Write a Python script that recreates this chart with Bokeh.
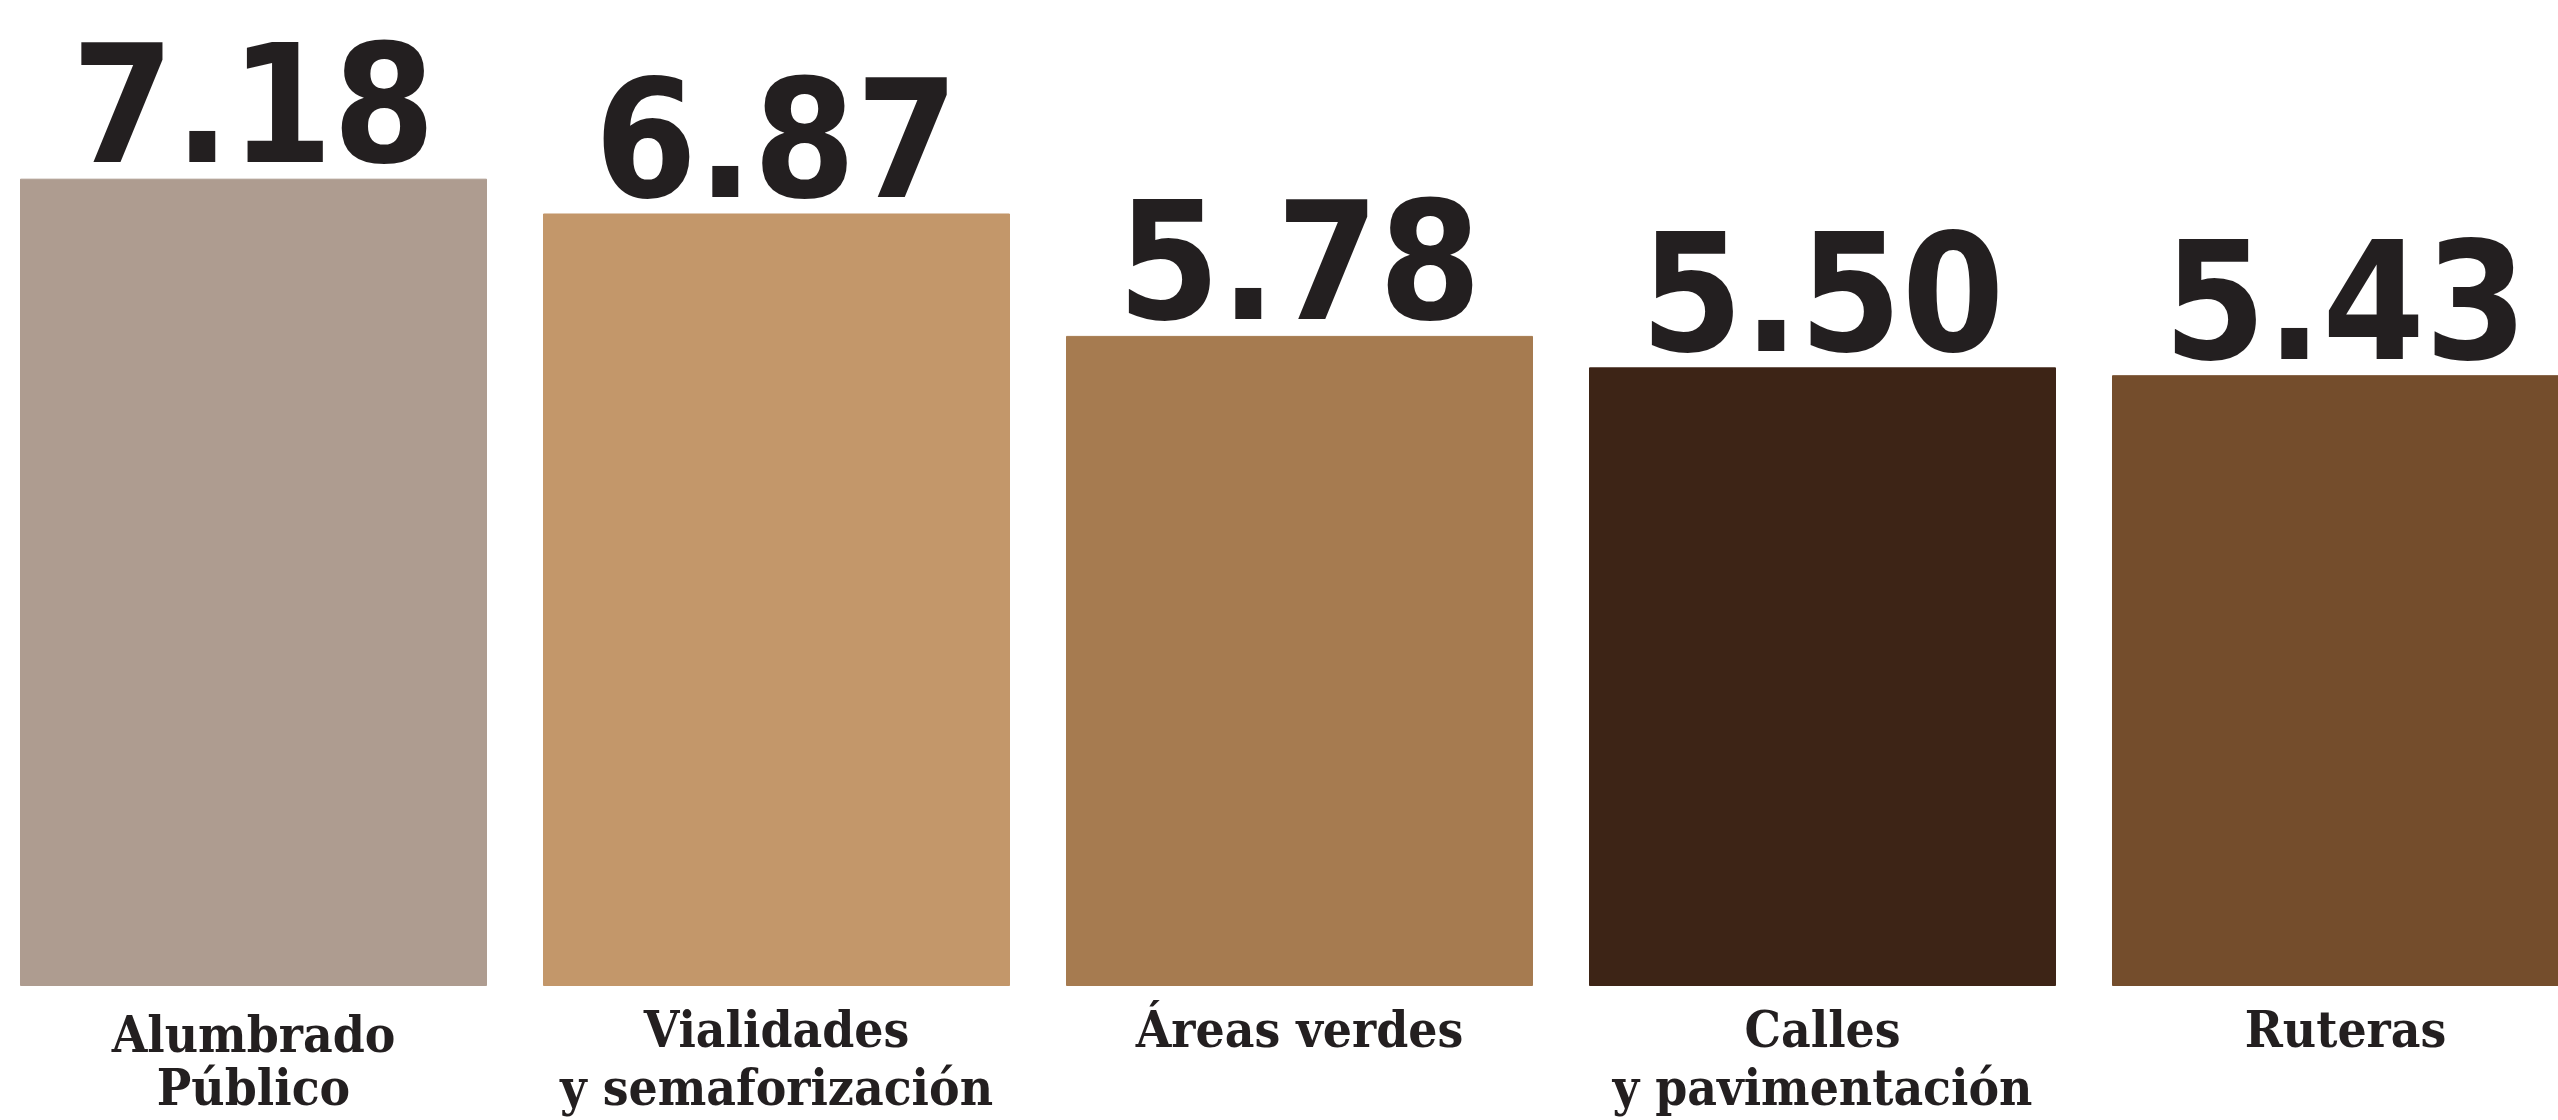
from bokeh.plotting import figure
from bokeh.models import ColumnDataSource, Range1d
from bokeh.core.properties import value
from bokeh.embed import file_html
from bokeh.resources import INLINE

categories = ["Alumbrado\nPúblico", "Vialidades\ny semaforización", "Áreas verdes",
              "Calles\ny pavimentación", "Ruteras"]
scores = [7.18, 6.87, 5.78, 5.50, 5.43]
score_labels = ["7.18", "6.87", "5.78", "5.50", "5.43"]
colors = ["#AE9C90", "#C3976A", "#A67B50", "#3D2416", "#744D2C"]

W, H = 2558, 1120
PITCH = 523.0          # px per category
YSCALE = 112.3         # px per unit
BASE = 985.0           # baseline px from top
LEFT_CENTER = 253.0

x_start = 0.0 - LEFT_CENTER / PITCH
x_end = x_start + W / PITCH
y_end = BASE / YSCALE
y_start = -(H - BASE) / YSCALE

xs = list(range(len(categories)))
line1 = [c.split("\n")[0] for c in categories]
line2 = [c.split("\n")[1] if "\n" in c else "" for c in categories]
off1 = [48 if i == 0 else 43 for i in xs]
off2 = [101 for i in xs]

src = ColumnDataSource(dict(x=xs, top=scores, color=colors, lab=score_labels,
                            l1=line1, l2=line2, o1=off1, o2=off2))

p = figure(width=W, height=H, output_backend="svg", toolbar_location=None,
           x_range=Range1d(x_start, x_end), y_range=Range1d(y_start, y_end),
           min_border=0, outline_line_color=None, background_fill_color="white",
           border_fill_color="white")
p.xaxis.visible = False
p.yaxis.visible = False
p.grid.visible = False

p.vbar(x="x", top="top", bottom=0, width=466.0 / PITCH, color="color", source=src)

p.text(x="x", y="top", text="lab", source=src, text_align="center",
       text_baseline="alphabetic", y_offset=-77,
       text_font=value("DejaVu Sans Condensed"), text_font_style="bold",
       text_font_size="164px", text_color="#231F20")

for col, off in (("l1", "o1"), ("l2", "o2")):
    p.text(x="x", y=0, text=col, source=src, text_align="center",
           text_baseline="alphabetic", y_offset=off,
           text_font=value("DejaVu Serif Condensed"), text_font_style="bold",
           text_font_size="51px", text_color="#231F20")

open("out.html", "w").write(file_html(p, INLINE))
